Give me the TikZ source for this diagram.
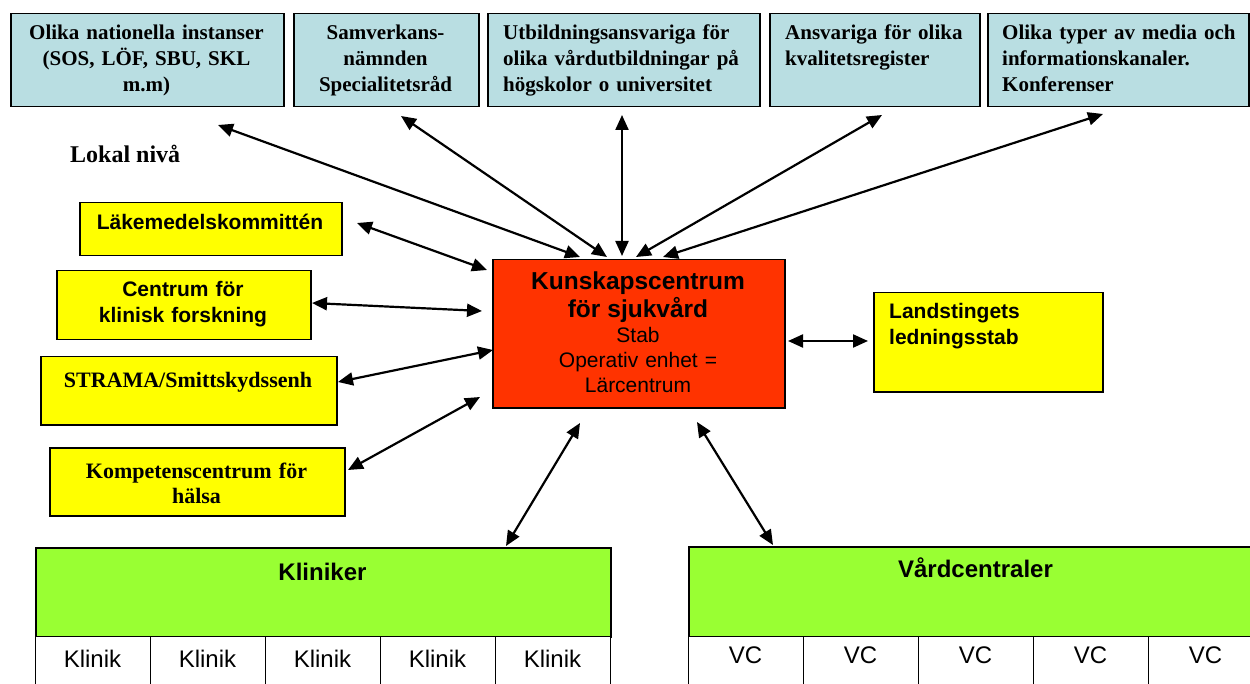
\documentclass[tikz,border=0pt]{standalone}
\usepackage{fontspec}
\setmainfont{Liberation Serif}
\setsansfont{Liberation Sans}
\usetikzlibrary{arrows.meta}
\definecolor{topblue}{RGB}{185,222,226}
\definecolor{ylw}{RGB}{255,255,0}
\definecolor{redc}{RGB}{255,51,0}
\definecolor{grn}{RGB}{153,255,51}
\begin{document}
\begin{tikzpicture}[x=1pt,y=-1pt,
  box/.style={draw=black, line width=1.5pt, inner sep=0pt, anchor=north west},
  topbox/.style={box, fill=topblue},
  ybox/.style={box, fill=ylw},
  rbox/.style={box, fill=redc},
  gbox/.style={box, fill=grn},
  cell/.style={draw=black, line width=0.8pt, fill=white, inner sep=0pt, anchor=north west, minimum width=115pt, minimum height=64pt},
  txt/.style={inner sep=0pt, anchor=base, text width=#1, align=center},
  ltxt/.style={inner sep=0pt, anchor=base west, text width=#1, align=left},
  topfont/.style={font=\rmfamily\bfseries\fontsize{21}{26}\selectfont},
  lserif/.style={font=\rmfamily\bfseries\fontsize{22}{25}\selectfont},
  lsans/.style={font=\sffamily\bfseries\fontsize{21}{26}\selectfont},
  bigsans/.style={font=\sffamily\bfseries\fontsize{24}{28}\selectfont},
  cellfont/.style={font=\sffamily\fontsize{24}{28}\selectfont},
  arr/.style={line width=2.2pt, {Triangle[length=15pt,width=13pt]}-{Triangle[length=15pt,width=13pt]}}
]
\useasboundingbox (0,0) rectangle (1250,684);

% top row
\node[topbox, minimum width=273pt, minimum height=93pt] (b1) at (10,13) {};
\node[topbox, minimum width=185pt, minimum height=93pt] (b2) at (293,13) {};
\node[topbox, minimum width=272pt, minimum height=93pt] (b3) at (487,13) {};
\node[topbox, minimum width=210pt, minimum height=93pt] (b4) at (769,13) {};
\node[topbox, minimum width=261pt, minimum height=93pt] (b5) at (987,13) {};
\node[txt=270pt, topfont] (t1) at (146.5,40) {Olika nationella instanser\\(SOS, LÖF, SBU, SKL\\m.m)};
\node[txt=180pt, topfont] (t2) at (385.5,40) {Samverkans-\\nämnden\\Specialitetsråd};
\node[ltxt=260pt, topfont] (t3) at (503,40) {Utbildningsansvariga för\\olika vårdutbildningar på\\högskolor o universitet};
\node[ltxt=200pt, topfont] (t4) at (785,40) {Ansvariga för olika\\kvalitetsregister};
\node[ltxt=245pt, topfont] (t5) at (1002,40) {Olika typer av media och\\informationskanaler.\\Konferenser};

\node[inner sep=0pt, anchor=base west, font=\rmfamily\bfseries\fontsize{24}{28}\selectfont] (lok) at (70,163) {Lokal nivå};

% left boxes
\node[ybox, minimum width=262pt, minimum height=53pt] (lak) at (79,202) {};
\node[txt=255pt, lsans] (lakt) at (210,230) {Läkemedelskommittén};
\node[ybox, minimum width=254pt, minimum height=69pt] (cen) at (56,270) {};
\node[txt=250pt, lsans] (cent) at (183,297) {Centrum för\\klinisk forskning};
\node[ybox, minimum width=296pt, minimum height=68pt] (str) at (40,356) {};
\node[txt=290pt, lserif] (strt) at (188,388) {STRAMA/Smittskydssenh};
\node[ybox, minimum width=295pt, minimum height=68pt] (kom) at (49,447) {};
\node[txt=290pt, lserif] (komt) at (196.5,478) {Kompetenscentrum för\\hälsa};

% center box
\node[rbox, minimum width=292pt, minimum height=148pt] (kc) at (492,259) {};
\node[txt=285pt, font=\sffamily\fontsize{21}{25}\selectfont] (kct) at (638,290) {{\bfseries\fontsize{24.5}{28}\selectfont Kunskapscentrum\\för sjukvård\par}Stab\\Operativ enhet =\\Lärcentrum};

% right box
\node[ybox, minimum width=229pt, minimum height=99pt] (lan) at (873,292) {};
\node[ltxt=210pt, lsans] (lant) at (889,319) {Landstingets\\ledningsstab};

% bottom groups
\node[gbox, minimum width=575pt, minimum height=89pt] (kl) at (35,547) {};
\node[txt=300pt, bigsans] (klt) at (322.5,580) {Kliniker};
\foreach \i in {0,...,4} {
  \node[cell] (k\i) at (35+115*\i,636) {};
  \node[txt=110pt, cellfont] (kt\i) at (92.5+115*\i,667) {Klinik};
}
\node[gbox, minimum width=575pt, minimum height=90pt] (vc) at (688,546) {};
\node[txt=300pt, bigsans] (vct) at (975.5,577) {Vårdcentraler};
\foreach \i in {0,...,4} {
  \node[cell] (v\i) at (688+115*\i,636) {};
  \node[txt=110pt, cellfont] (vt\i) at (745.5+115*\i,663) {VC};
}

% arrow endpoints
\coordinate (a1s) at (218,125); \coordinate (a1e) at (580,257);
\coordinate (a2s) at (401,116); \coordinate (a2e) at (607,257);
\coordinate (a3s) at (622,115); \coordinate (a3e) at (622,256);
\coordinate (a4s) at (882,115); \coordinate (a4e) at (636,257);
\coordinate (a5s) at (1103,114); \coordinate (a5e) at (663,257);
\coordinate (l1s) at (357,223); \coordinate (l1e) at (487,270);
\coordinate (l2s) at (312,303); \coordinate (l2e) at (482,311);
\coordinate (l3s) at (338,382); \coordinate (l3e) at (493,350);
\coordinate (l4s) at (348,470); \coordinate (l4e) at (480,397);
\coordinate (r1s) at (788,341); \coordinate (r1e) at (868,341);
\coordinate (d1s) at (580,423); \coordinate (d1e) at (506,546);
\coordinate (d2s) at (697,422); \coordinate (d2e) at (773,545);

\foreach \s/\e in {a1s/a1e,a2s/a2e,a3s/a3e,a4s/a4e,a5s/a5e,l1s/l1e,l2s/l2e,l3s/l3e,l4s/l4e,r1s/r1e,d1s/d1e,d2s/d2e}
  \draw[arr] (\s) -- (\e);
\end{tikzpicture}
\end{document}
